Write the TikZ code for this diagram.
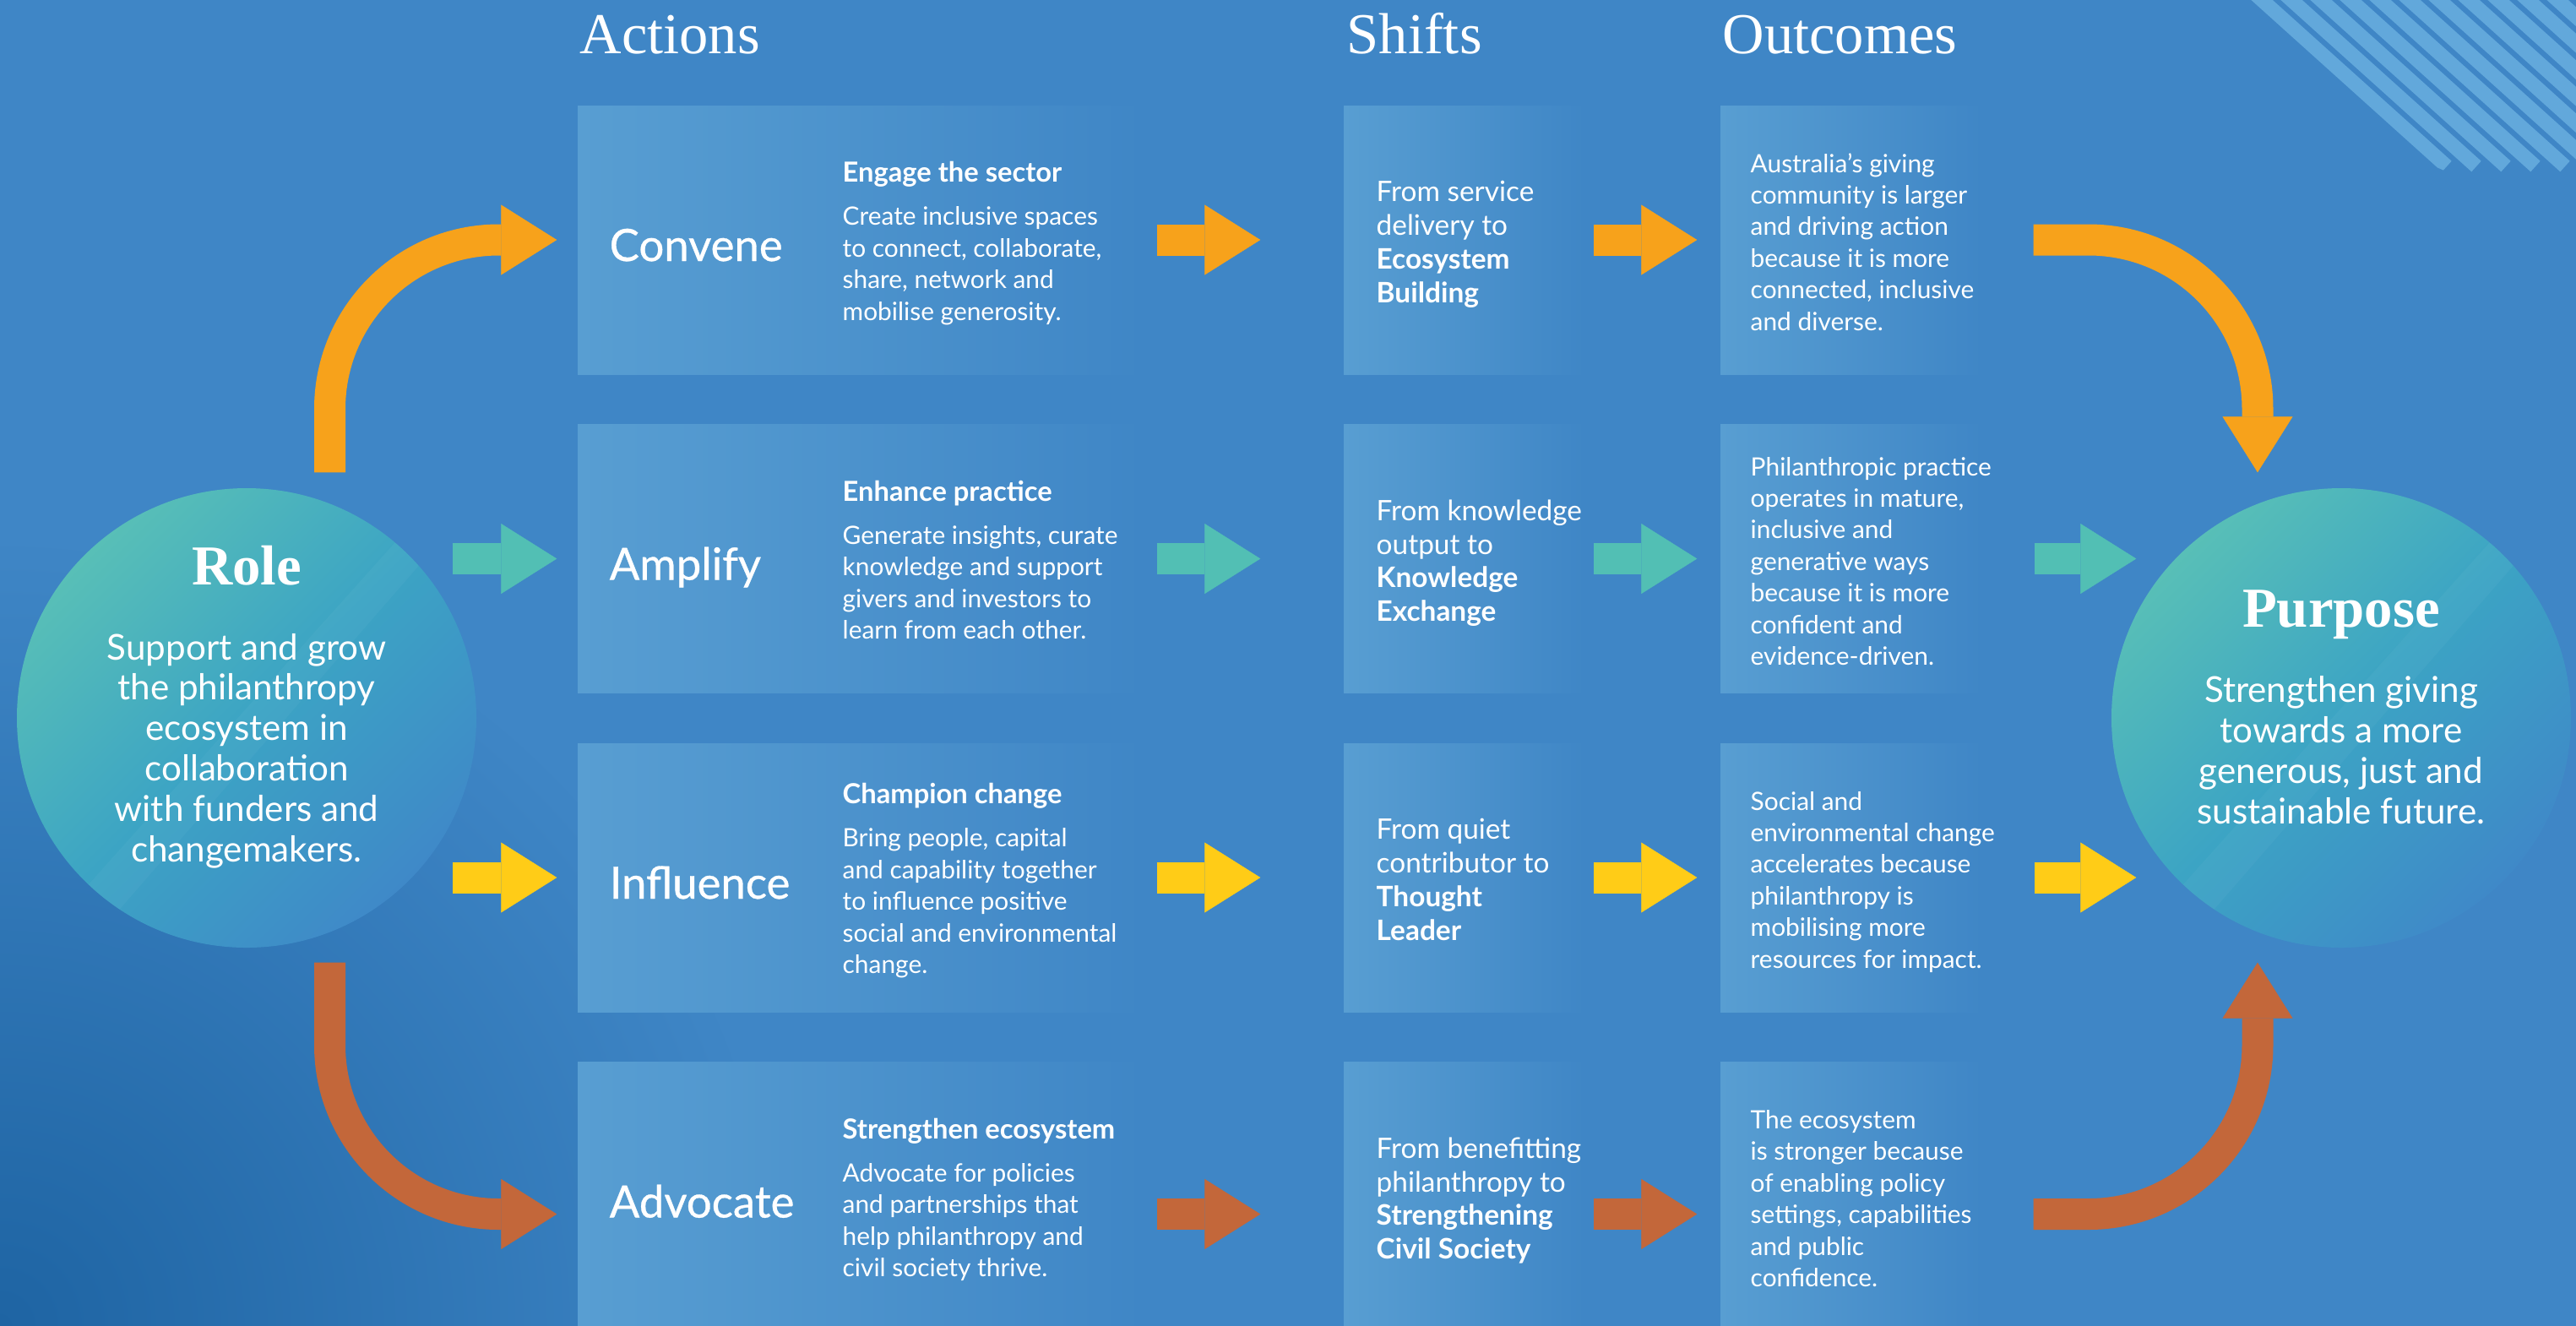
\documentclass[tikz,border=0pt]{standalone}
\usepackage{fontspec}
\setmainfont{Lato}
\newfontfamily\titlefont{Liberation Serif}
\newfontfamily\labelfont{Lato}[FakeBold=0.6]
\usetikzlibrary{arrows.meta,calc,fadings}

\definecolor{bgblue}{RGB}{63,134,198}
\definecolor{bgdeep}{RGB}{30,100,163}
\definecolor{boxblue}{RGB}{88,158,210}
\definecolor{stripeblue}{RGB}{98,168,219}
\definecolor{ringteal}{RGB}{88,191,183}
\definecolor{ringmid}{RGB}{60,164,196}
\definecolor{ringblue}{RGB}{63,137,200}
\definecolor{arrorange}{RGB}{247,162,27}
\definecolor{arrteal}{RGB}{82,191,180}
\definecolor{arryellow}{RGB}{255,204,23}
\definecolor{arrrust}{RGB}{195,103,58}

\pgfdeclareradialshading{cornerglow}{\pgfpoint{0bp}{0bp}}{%
  color(0bp)=(bgdeep); color(6.5bp)=(bgblue); color(50bp)=(bgblue)}

\newcommand\Pitch{3.775}
\newcommand\acthead[1]{{\bfseries\fontsize{9.3}{10}\selectfont #1}}

\tikzset{
  colhead/.style={anchor=base west, inner sep=0, text=white,
    font=\titlefont\fontsize{19.5}{20}\selectfont},
  actbox/.style={minimum width=6.72cm, minimum height=3.18cm, inner sep=0,
    left color=boxblue, right color=bgblue},
  shiftbox/.style={actbox, minimum width=2.86cm},
  outbox/.style={actbox, minimum width=3.11cm},
  ring/.style={circle, minimum size=5.44cm, inner sep=0,
    top color=ringteal, bottom color=ringblue, middle color=ringmid, shading angle=45},
  ringtext/.style={anchor=base, align=center, inner sep=0, text=white,
    font=\fontsize{12}{13.6}\selectfont},
  actlabel/.style={anchor=base west, inner sep=0, text=white,
    font=\labelfont\fontsize{15}{18}\selectfont},
  acttext/.style={anchor=base west, align=left, inner sep=0, text=white,
    font=\fontsize{8.5}{10.64}\selectfont},
  shifttext/.style={acttext, font=\fontsize{9.5}{11.3}\selectfont},
  fat/.style={line width=0.37cm, -{Triangle[length=0.66cm,width=0.83cm,line width=0.1pt]}},
  curvearrow/.style={fat, rounded corners=2cm},
}

\begin{document}
\begin{tikzpicture}[x=1cm, y=-1cm]
  \useasboundingbox (0,0) rectangle (30.5,15.69);
  \shade[shading=cornerglow] (0,15.69) circle (36);

  %% stripes top right
  \begin{scope}[scope fading=south]
    \clip (26.60,0) -- (30.5,0) -- (30.5,2.72) -- (28.85,1.98) -- cycle;
    \foreach \k in {0,...,11}
      \draw[stripeblue, line width=0.17cm] ({26.67+0.35*\k},-0.1) -- ++(2.3,2.07);
  \end{scope}

  %% column heads
  \node[colhead] (hact) at (6.86,0.63) {Actions};
  \node[colhead] (hshift) at (15.94,0.63) {Shifts};
  \node[colhead] (hout) at (20.39,0.63) {Outcomes};

  %% boxes
  \node[actbox] (a1) at (10.20, 2.84) {};
  \node[actbox] (a2) at (10.20, 2.84+\Pitch) {};
  \node[actbox] (a3) at (10.20, 2.84+2*\Pitch) {};
  \node[actbox] (a4) at (10.20, 2.84+3*\Pitch) {};
  \node[shiftbox] (s1) at (17.34, 2.84) {};
  \node[shiftbox] (s2) at (17.34, 2.84+\Pitch) {};
  \node[shiftbox] (s3) at (17.34, 2.84+2*\Pitch) {};
  \node[shiftbox] (s4) at (17.34, 2.84+3*\Pitch) {};
  \node[outbox] (o1) at (21.925, 2.84) {};
  \node[outbox] (o2) at (21.925, 2.84+\Pitch) {};
  \node[outbox] (o3) at (21.925, 2.84+2*\Pitch) {};
  \node[outbox] (o4) at (21.925, 2.84+3*\Pitch) {};

  %% circles
  \node[ring] (role) at (2.92, 8.50) {};
  \node[ring] (purpose) at (27.72, 8.50) {};
  \foreach \c in {role,purpose}{
    \begin{scope}
      \clip (\c.center) circle (2.72);
      \fill[white, opacity=0.035, shift={(\c.center)}]
        (-2.81,3.02) -- (2.71,-3.14) -- (2.89,-2.78) -- (-2.30,3.18) -- cycle;
    \end{scope}
  }

  %% (base = last line)
  \node[ringtext] (roletxt) at (2.92, 10.20) {{\titlefont\bfseries\fontsize{19}{19}\selectfont Role}\\[11.7pt]
    Support and grow\\ the philanthropy\\ ecosystem in\\ collaboration\\ with funders and\\ changemakers.};
  \node[ringtext] (purposetxt) at (27.72, 9.75) {{\titlefont\bfseries\fontsize{19}{19}\selectfont Purpose}\\[11.7pt]
    Strengthen giving\\ towards a more\\ generous, just and\\ sustainable future.};

  %% actions
  \node[actlabel] (a1lab) at (7.21, 3.09) {Convene};
  \node[actlabel] (a2lab) at (7.21, 3.09+\Pitch) {Amplify};
  \node[actlabel] (a3lab) at (7.21, 3.09+2*\Pitch) {Influence};
  \node[actlabel] (a4lab) at (7.21, 3.09+3*\Pitch) {Advocate};
  \node[acttext] (a1txt) at (9.97, 3.79) {\acthead{Engage the sector}\\[3.9pt]
    Create inclusive spaces\\ to connect, collaborate,\\ share, network and\\ mobilise generosity.};
  \node[acttext] (a2txt) at (9.97, 3.79+\Pitch) {\acthead{Enhance practice}\\[3.9pt]
    Generate insights, curate\\ knowledge and support\\ givers and investors to\\ learn from each other.};
  \node[acttext] (a3txt) at (9.97, 3.975+2*\Pitch) {\acthead{Champion change}\\[3.9pt]
    Bring people, capital\\ and capability together\\ to influence positive\\ social and environmental\\ change.};
  \node[acttext] (a4txt) at (9.97, 3.79+3*\Pitch) {\acthead{Strengthen ecosystem}\\[3.9pt]
    Advocate for policies\\ and partnerships that\\ help philanthropy and\\ civil society thrive.};

  %% shifts
  \node[shifttext] (s1txt) at (16.29, 3.58) {From service\\ delivery to\\ \textbf{Ecosystem}\\ \textbf{Building}};
  \node[shifttext] (s2txt) at (16.29, 3.58+\Pitch) {From knowledge\\ output to\\ \textbf{Knowledge}\\ \textbf{Exchange}};
  \node[shifttext] (s3txt) at (16.29, 3.58+2*\Pitch) {From quiet\\ contributor to\\ \textbf{Thought}\\ \textbf{Leader}};
  \node[shifttext] (s4txt) at (16.29, 3.58+3*\Pitch) {From benefitting\\ philanthropy to\\ \textbf{Strengthening}\\ \textbf{Civil Society}};

  %% outcomes
  \node[acttext] (o1txt) at (20.72, 3.91) {Australia’s giving\\ community is larger\\ and driving action\\ because it is more\\ connected, inclusive\\ and diverse.};
  \node[acttext] (o2txt) at (20.72, 4.10+\Pitch) {Philanthropic practice\\ operates in mature,\\ inclusive and\\ generative ways\\ because it is more\\ confident and\\ evidence-driven.};
  \node[acttext] (o3txt) at (20.72, 3.91+2*\Pitch) {Social and\\ environmental change\\ accelerates because\\ philanthropy is\\ mobilising more\\ resources for impact.};
  \node[acttext] (o4txt) at (20.72, 3.91+3*\Pitch) {The ecosystem\\ is stronger because\\ of enabling policy\\ settings, capabilities\\ and public\\ confidence.};

  %% role -> actions
  \draw[curvearrow, arrorange] ($(role.north)+(0.985,-0.18)$) |- ([xshift=-0.24cm]a1.west);
  \draw[fat, arrteal] ($(role.east |- a2.west)+(-0.29,0)$) -- ([xshift=-0.24cm]a2.west);
  \draw[fat, arryellow] ($(role.east |- a3.west)+(-0.29,0)$) -- ([xshift=-0.24cm]a3.west);
  \draw[curvearrow, arrrust] ($(role.south)+(0.985,0.17)$) |- ([xshift=-0.24cm,yshift=-0.21cm]a4.west);

  %% actions -> shifts
  \draw[fat, arrorange] ([xshift=0.13cm]a1.east) -- ([xshift=-0.98cm]s1.west);
  \draw[fat, arrteal] ([xshift=0.13cm]a2.east) -- ([xshift=-0.98cm]s2.west);
  \draw[fat, arryellow] ([xshift=0.13cm]a3.east) -- ([xshift=-0.98cm]s3.west);
  \draw[fat, arrrust] ([xshift=0.13cm,yshift=-0.21cm]a4.east) -- ([xshift=-0.98cm,yshift=-0.21cm]s4.west);

  %% shifts -> outcomes
  \draw[fat, arrorange] ([xshift=0.09cm]s1.east) -- ([xshift=-0.27cm]o1.west);
  \draw[fat, arrteal] ([xshift=0.09cm]s2.east) -- ([xshift=-0.27cm]o2.west);
  \draw[fat, arryellow] ([xshift=0.09cm]s3.east) -- ([xshift=-0.27cm]o3.west);
  \draw[fat, arrrust] ([xshift=0.09cm,yshift=-0.21cm]s4.east) -- ([xshift=-0.27cm,yshift=-0.21cm]o4.west);

  %% outcomes -> purpose
  \draw[curvearrow, arrorange] ([xshift=0.59cm]o1.east) -| ($(purpose.north)+(-0.99,-0.18)$);
  \draw[fat, arrteal] ([xshift=0.60cm]o2.east) -- ($(purpose.west |- o2.east)+(0.30,0)$);
  \draw[fat, arryellow] ([xshift=0.60cm]o3.east) -- ($(purpose.west |- o3.east)+(0.30,0)$);
  \draw[curvearrow, arrrust] ([xshift=0.59cm,yshift=-0.21cm]o4.east) -| ($(purpose.south)+(-0.99,0.17)$);

\end{tikzpicture}
\end{document}
